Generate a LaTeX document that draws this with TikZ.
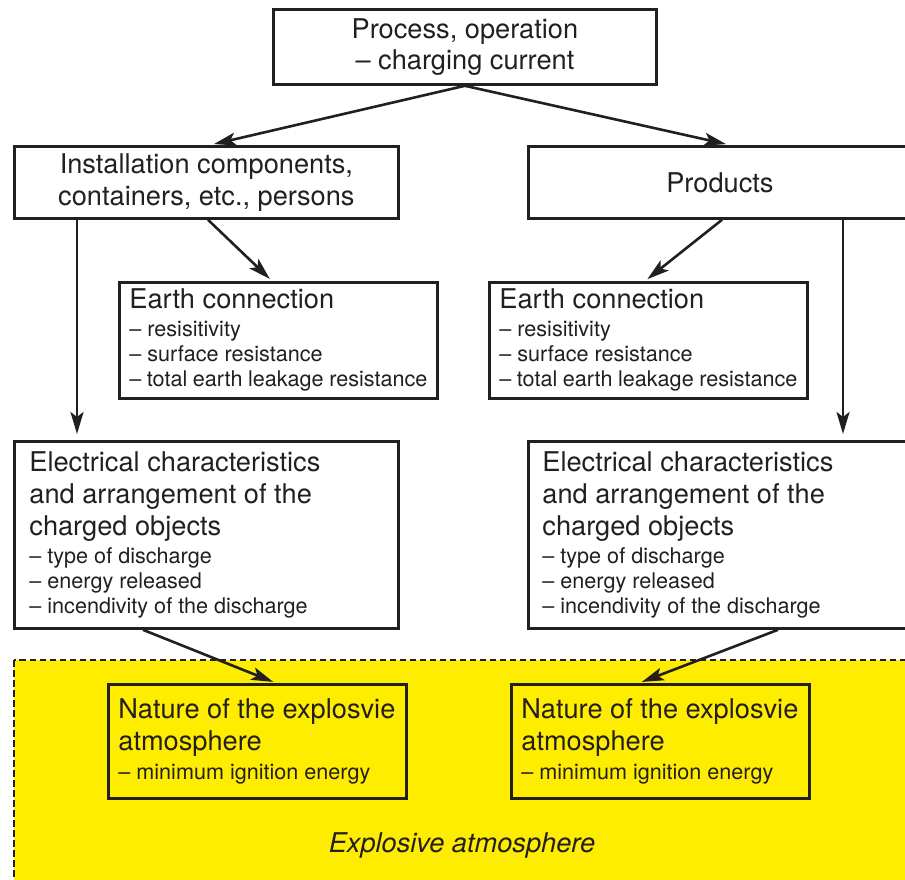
\documentclass[tikz,border=0pt]{standalone}
\usepackage{fontspec}
\setmainfont{TeX Gyre Heros}
\usetikzlibrary{arrows.meta}

\definecolor{ink}{HTML}{231F20}
\definecolor{atmoyellow}{HTML}{FFED00}

\newcommand{\titlesize}{\fontsize{27.2}{32}\selectfont}
\newcommand{\itemsize}{\fontsize{21.6}{25}\selectfont}

\tikzset{
  box/.style={draw=ink, line width=2.8pt, fill=white, text=ink, inner ysep=0pt, anchor=north west, font=\titlesize},
  listbox/.style={box, align=flush left},
  flow/.style={draw=ink, line width=2.6pt, -{Stealth[length=22pt, width=13pt, inset=5pt]}}
}

\begin{document}
\begin{tikzpicture}[x=1pt, y=-1pt]
        \useasboundingbox (0, 0) rectangle (905, 880);
        % explosive atmosphere zone
        \filldraw[draw = ink, fill = atmoyellow, line width = 2.6pt, dash pattern = on 6.5pt off 3.5pt] (14, 660) rectangle (915, 895);
        \node (zone) at (462, 845) [text = ink, font = \titlesize\itshape] {Explosive atmosphere};

        \node (process) at (272, 8) [box, align = center, minimum width = 383, minimum height = 75] {Process, operation\\[-1pt] -- charging current};
        \node (install) at (13, 145) [box, align = center, minimum width = 384, minimum height = 72] {Installation components,\\ containers, etc., persons};
        \node (products) at (527, 145) [box, minimum width = 383, minimum height = 72] {Products};

        \node (earthL) at (118, 281) [listbox, inner xsep = 10, text width = 298, minimum height = 116]
            {{\titlesize Earth connection\par}\vspace{3pt}{\itemsize -- resisitivity\\ -- surface resistance\\ -- total earth leakage resistance\par}};
        \node (earthR) at (488, 281) [listbox, inner xsep = 10, text width = 298, minimum height = 116]
            {{\titlesize Earth connection\par}\vspace{3pt}{\itemsize -- resisitivity\\ -- surface resistance\\ -- total earth leakage resistance\par}};

        \node (elecL) at (13, 440) [listbox, inner xsep = 15, text width = 354, minimum height = 187]
            {{\titlesize Electrical characteristics\\ and arrangement of the\\ charged objects\par}\vspace{3pt}{\itemsize -- type of discharge\\ -- energy released\\ -- incendivity of the discharge\par}};
        \node (elecR) at (527, 440) [listbox, inner xsep = 14, text width = 355, minimum height = 187]
            {{\titlesize Electrical characteristics\\ and arrangement of the\\ charged objects\par}\vspace{3pt}{\itemsize -- type of discharge\\ -- energy released\\ -- incendivity of the discharge\par}};

        \node (natureL) at (107, 683) [listbox, fill = atmoyellow, inner xsep = 10, text width = 278, minimum height = 114]
            {{\titlesize Nature of the explosvie\\ atmosphere\par}\vspace{4pt}{\itemsize -- minimum ignition energy\par}};
        \node (natureR) at (510, 683) [listbox, fill = atmoyellow, inner xsep = 10, text width = 278, minimum height = 114]
            {{\titlesize Nature of the explosvie\\ atmosphere\par}\vspace{4pt}{\itemsize -- minimum ignition energy\par}};

        \draw[flow, shorten > = 4pt] (process.south) -- ([xshift = 197]install.north west);
        \draw[flow, shorten > = 4pt] (process.south) -- ([xshift = 203]products.north west);
        \draw[flow, shorten > = 3pt] ([xshift = 195]install.south west) -- ([xshift = 154]earthL.north west);
        \draw[flow, shorten > = 6pt] ([xshift = 64]install.south west) -- ([xshift = 64]elecL.north west);
        \draw[flow, shorten > = 3pt] ([xshift = 195]products.south west) -- ([xshift = 157]earthR.north west);
        \draw[flow, shorten > = 6pt] ([xshift = 316]products.south west) -- ([xshift = 316]elecR.north west);
        \draw[flow, shorten > = 3pt] ([xshift = 130]elecL.south west) -- ([xshift = 169]natureL.north west);
        \draw[flow, shorten > = 3pt] ([xshift = 251]elecR.south west) -- ([xshift = 129]natureR.north west);
    \end{tikzpicture}
\end{document}
